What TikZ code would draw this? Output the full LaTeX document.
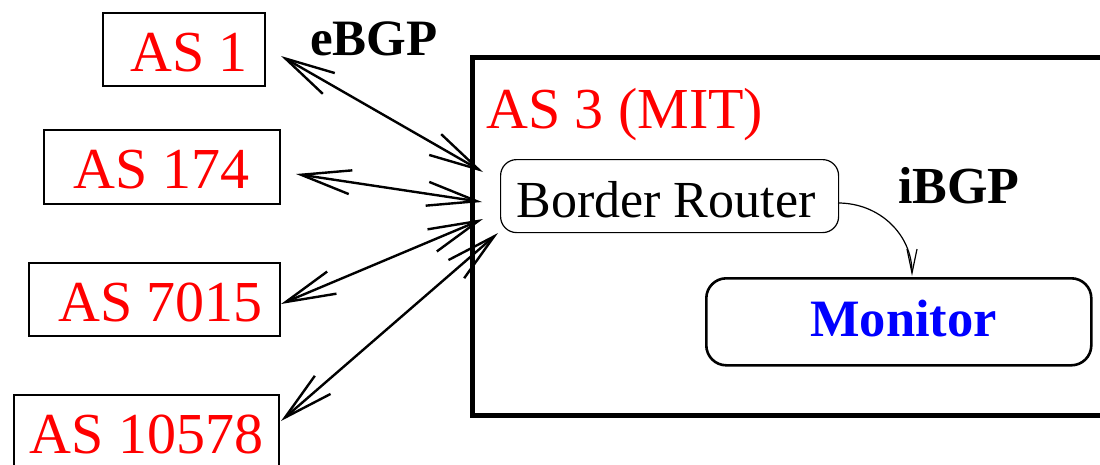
\documentclass[tikz,border=0pt]{standalone}
\usepackage{fontspec}
\setmainfont{Liberation Serif}
\usetikzlibrary{arrows.meta}
\definecolor{asred}{RGB}{255,0,0}
\definecolor{monblue}{RGB}{0,0,255}
\tikzset{
  asbox/.style={draw=black, line width=2.4pt, inner sep=0pt, anchor=north west},
  astext/.style={text=asred, inner sep=0pt, anchor=base, font=\fontsize{58}{60}\selectfont},
  bgplabel/.style={inner sep=0pt, anchor=base west, font=\fontsize{52}{54}\selectfont\bfseries},
  ebgp/.style={line width=2.4pt, {Straight Barb[length=50pt,width=24pt]}-{Straight Barb[length=50pt,width=24pt]}},
  ibgp/.style={line width=1.2pt, -{Straight Barb[length=24pt,width=10pt]}},
}
\begin{document}
\begin{tikzpicture}[x=1pt,y=-1pt]
\clip (0,0) rectangle (1100,464);
\fill[white] (0,0) rectangle (1100,464);

% AS 3 region
\node[draw=black, line width=5pt, inner sep=0pt, anchor=north west, minimum width=660pt, minimum height=358pt] (as3) at (470,55) {};
\node[astext, anchor=base west, font=\fontsize{58}{60}\selectfont] (as3t) at (486,128) {AS 3 (MIT)};

% external AS boxes
\node[asbox, minimum width=162pt, minimum height=73pt] (as1) at (102,12) {};
\node[astext] (as1t) at (189,71) {AS 1};
\node[asbox, minimum width=236pt, minimum height=74pt] (as174) at (43,129) {};
\node[astext] (as174t) at (161.5,188) {AS 174};
\node[asbox, minimum width=251pt, minimum height=73pt] (as7015) at (28,262) {};
\node[astext] (as7015t) at (160.5,321) {AS 7015};
\node[asbox, minimum width=265pt, minimum height=80pt] (as10578) at (13,394) {};
\node[astext] (as10578t) at (146.5,453) {AS 10578};

% router and monitor
\node[draw=black, line width=1.2pt, rounded corners=16pt, inner sep=0pt, anchor=north west, minimum width=338pt, minimum height=73pt] (br) at (500,159) {};
\node[inner sep=0pt, anchor=base, font=\fontsize{52}{54}\selectfont] (brt) at (666,217) {Border Router};
\node[draw=black, line width=2.6pt, rounded corners=20pt, inner sep=0pt, anchor=north west, minimum width=385pt, minimum height=87pt] (mon) at (705,277) {};
\node[inner sep=0pt, anchor=base, text=monblue, font=\fontsize{52.5}{54}\selectfont\bfseries] (mont) at (903.5,336) {Monitor};

% labels
\node[bgplabel, font=\fontsize{51}{53}\selectfont\bfseries] (elab) at (310,55) {eBGP};
\node[bgplabel] (ilab) at (898,203) {iBGP};

% eBGP connector ends
\coordinate (e1l) at (281,56);   \coordinate (e1r) at (483,172);
\coordinate (e2l) at (296,174);  \coordinate (e2r) at (482,202);
\coordinate (e3l) at (281,304);  \coordinate (e3r) at (483,219);
\coordinate (e4l) at (281,421);  \coordinate (e4r) at (498,233);
\draw[ebgp] (e1l) -- (e1r);
\draw[ebgp] (e2l) -- (e2r);
\draw[ebgp] (e3l) -- (e3r);
\draw[ebgp] (e4l) -- (e4r);

% iBGP connector
\coordinate (ib1) at (838,203);
\coordinate (ib2) at (912,276);
\draw[ibgp] (ib1) .. controls (880,203) and (912,235) .. (ib2);
\end{tikzpicture}
\end{document}
